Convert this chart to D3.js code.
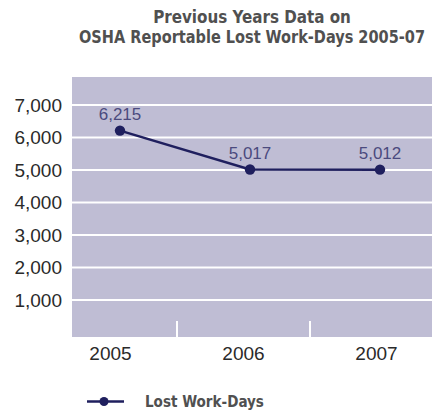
<!DOCTYPE html>
<html><head><meta charset="utf-8">
<script src="https://cdn.jsdelivr.net/npm/d3@7"></script>
<style>body{margin:0;background:#fff}svg{display:block}</style>
</head><body>
<svg id="c" width="432" height="410"></svg>
<script>
const years = ["2005", "2006", "2007"];
const lostWorkDays = [6215, 5017, 5012];
const yTicks = [1000, 2000, 3000, 4000, 5000, 6000, 7000];
const titleLines = ["Previous Years Data on", "OSHA Reportable Lost Work-Days 2005-07"];
const seriesName = "Lost Work-Days";

const svg = d3.select("#c");
const plot = {left: 72, right: 432, top: 77, bottom: 337};
const condensed = "'DejaVu Sans Condensed','DejaVu Sans',sans-serif";
const sans = "'Liberation Sans',Arial,sans-serif";

// squeeze a text horizontally to a target width with a transform
function squeezed(x, yPos, anchor, size, target, str) {
  const g = svg.append("g");
  const t = g.append("text").attr("text-anchor", anchor)
    .attr("font-family", condensed).attr("font-stretch", "condensed")
    .attr("font-weight", "bold").attr("font-size", size).attr("fill", "#505050")
    .text(str);
  const w = t.node().getComputedTextLength();
  g.attr("transform", `translate(${x},${yPos}) scale(${target / w},1)`);
}

const titleW = [198, 346];
titleLines.forEach((t, i) => squeezed(252, 23 + i * 20, "middle", 17.5, titleW[i], t));

const y = d3.scaleLinear().domain([0, 7880]).range([332.5, 76.5]);
const xBand = d3.scaleBand().domain(years).range([44, 443]);
const xPt = d3.scalePoint().domain(years).range([120, 380]);

svg.append("rect").attr("x", plot.left).attr("y", plot.top)
  .attr("width", plot.right - plot.left).attr("height", plot.bottom - plot.top)
  .attr("fill", "#bfbdd4");

// gridlines
svg.append("g").selectAll("line").data(yTicks).join("line")
  .attr("x1", plot.left).attr("x2", plot.right)
  .attr("y1", d => y(d)).attr("y2", d => y(d))
  .attr("stroke", "#fff").attr("stroke-width", 2);

// category separators
svg.append("g").selectAll("line").data(years.slice(1)).join("line")
  .attr("x1", d => xBand(d)).attr("x2", d => xBand(d))
  .attr("y1", plot.bottom - 16).attr("y2", plot.bottom)
  .attr("stroke", "#fff").attr("stroke-width", 2);

// y labels
const fmt = d3.format(",");
svg.append("g").selectAll("text").data(yTicks).join("text")
  .attr("x", 62).attr("y", d => y(d)).attr("dy", "0.35em")
  .attr("text-anchor", "end").attr("font-family", sans).attr("font-size", 19)
  .attr("fill", "#2a2a2a").text(d => fmt(d));

// x labels
svg.append("g").selectAll("text").data(years).join("text")
  .attr("x", d => xBand(d) + xBand.bandwidth() / 2).attr("y", 360)
  .attr("text-anchor", "middle").attr("font-family", sans).attr("font-size", 19)
  .attr("fill", "#2a2a2a").text(d => d);

const pts = years.map((yr, i) => ({yr, v: lostWorkDays[i]}));
const lineColor = "#1f1f5e";
svg.append("path").datum(pts)
  .attr("d", d3.line().x(d => xPt(d.yr)).y(d => y(d.v)))
  .attr("fill", "none").attr("stroke", lineColor).attr("stroke-width", 2.5);
svg.append("g").selectAll("circle").data(pts).join("circle")
  .attr("cx", d => xPt(d.yr)).attr("cy", d => y(d.v)).attr("r", 5.2)
  .attr("fill", lineColor);
svg.append("g").selectAll("text").data(pts).join("text")
  .attr("x", d => xPt(d.yr)).attr("y", d => y(d.v) - 11)
  .attr("text-anchor", "middle").attr("font-family", sans).attr("font-size", 17)
  .attr("fill", "#4b4a7e").text(d => fmt(d.v));

// legend
svg.append("line").attr("x1", 87).attr("x2", 124).attr("y1", 401.5).attr("y2", 401.5)
  .attr("stroke", lineColor).attr("stroke-width", 2.5);
svg.append("circle").attr("cx", 104).attr("cy", 401.5).attr("r", 4.5).attr("fill", lineColor);
squeezed(145, 407, "start", 15, 119, seriesName);
</script>
</body></html>
